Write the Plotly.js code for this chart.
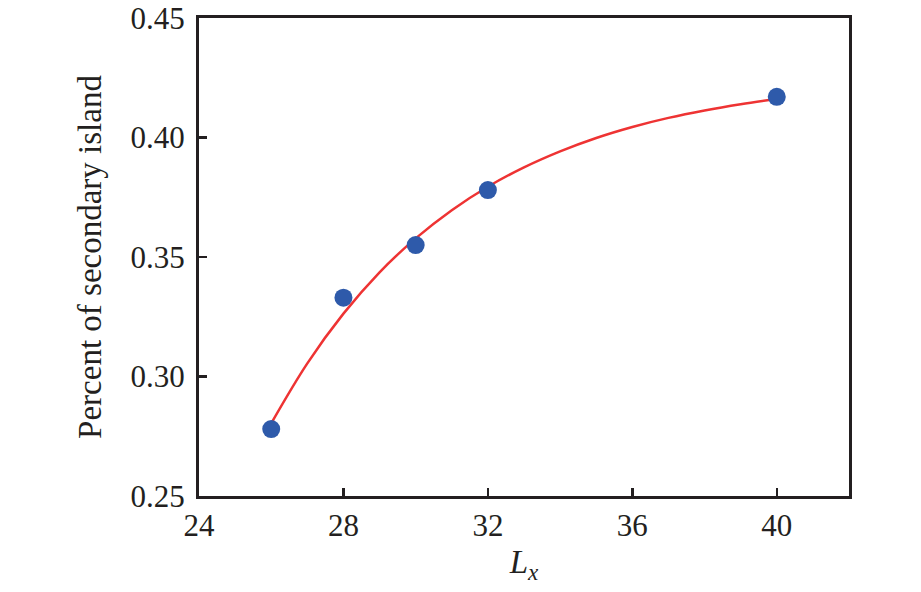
<!DOCTYPE html>
<html>
<head>
<meta charset="utf-8">
<script src="https://cdn.plot.ly/plotly-3.0.1.min.js"></script>
<style>html,body{margin:0;padding:0;background:#fff;}#chart{width:921px;height:592px;}</style>
</head>
<body>
<div id="chart"></div>
<script>
// Measured data points
const lx = [26, 28, 30, 32, 40];
const percent = [0.278, 0.333, 0.355, 0.378, 0.417];
// Fitted curve
const fitX = [26, 27, 28, 29, 30, 31, 32, 33, 34, 35, 36, 37, 38, 39, 40];
const fitY = [0.2804, 0.3055, 0.3263, 0.3436, 0.3578, 0.3696, 0.3794, 0.3875, 0.3942, 0.3998, 0.4044, 0.4082, 0.4113, 0.4139, 0.4161];
const xTicks = [24, 28, 32, 36, 40];
const yTicks = [0.25, 0.30, 0.35, 0.40, 0.45];

const font = {family: '"Liberation Serif", "Times New Roman", serif', size: 31, color: '#231f20'};
const titleFont = Object.assign({}, font, {size: 33});

const traces = [
  {x: fitX, y: fitY, type: 'scatter', mode: 'lines', line: {color: '#ee3333', width: 2.5, shape: 'spline', smoothing: 1}, hoverinfo: 'skip'},
  {x: lx, y: percent, type: 'scatter', mode: 'markers', marker: {color: '#2e5aaa', size: 18}}
];

const axisBase = {
  showline: true, linecolor: '#231f20', linewidth: 3, mirror: true,
  ticks: 'inside', ticklen: 8, tickwidth: 2.5, tickcolor: '#231f20',
  showgrid: false, zeroline: false, tickfont: font
};

const layout = {
  width: 921, height: 592,
  margin: {l: 199, r: 72, t: 18, b: 96},
  paper_bgcolor: '#fff', plot_bgcolor: '#fff',
  showlegend: false,
  font: font,
  xaxis: Object.assign({}, axisBase, {
    range: [24, 42], tickmode: 'array', tickvals: xTicks, ticktext: xTicks.map(String),
    title: {text: '<i>L</i><sub><i>x</i></sub>', font: titleFont, standoff: 8}
  }),
  yaxis: Object.assign({}, axisBase, {
    range: [0.25, 0.45], tickmode: 'array', tickvals: yTicks, ticktext: yTicks.map(v => v.toFixed(2)),
    ticklabelstandoff: 5,
    title: {text: 'Percent of secondary island', font: titleFont, standoff: 19}
  })
};

Plotly.newPlot('chart', traces, layout, {displayModeBar: false, staticPlot: true});
</script>
</body>
</html>
